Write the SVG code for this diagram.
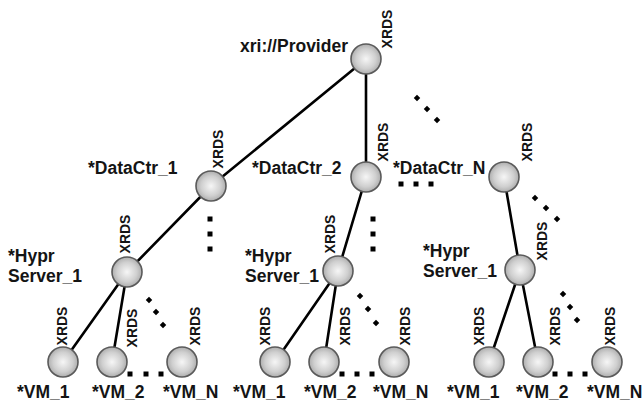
<svg xmlns="http://www.w3.org/2000/svg" width="644" height="408" viewBox="0 0 644 408">
  <style>
    .lbl { font-family: "Liberation Sans", Arial, sans-serif; font-weight: bold; font-size: 17.5px; fill: #141414; }
    .xrds { font-family: "Liberation Sans", Arial, sans-serif; font-weight: bold; font-size: 14px; fill: #141414; text-anchor: middle; }
    .edge { stroke: #000; stroke-width: 2.6; fill: none; stroke-linecap: round; }
    .node { fill: url(#ball); stroke: #5a5a5a; stroke-width: 1.6; }
    .dot { fill: #000; }
  </style>
  <defs>
    <radialGradient id="ball" cx="0.5" cy="0.5" r="0.55">
      <stop offset="0" stop-color="#f6f6f6"/>
      <stop offset="0.6" stop-color="#cfcfcf"/>
      <stop offset="1" stop-color="#a4a4a4"/>
    </radialGradient>
    <rect id="sq" x="-2.5" y="-2.5" width="5" height="5" class="dot"/>
    <rect id="dm" x="-2.3" y="-2.3" width="4.6" height="4.6" class="dot" transform="rotate(45)"/>
  </defs>
  <rect width="644" height="408" fill="#fff"/>

  <!-- connectors -->
  <g id="connectors">
    <line class="edge" x1="366" y1="59" x2="211" y2="186"/>
    <line class="edge" x1="366" y1="59" x2="366" y2="177"/>
    <line class="edge" x1="211" y1="186" x2="127" y2="272"/>
    <line class="edge" x1="366" y1="177" x2="338" y2="271"/>
    <line class="edge" x1="504" y1="177" x2="520" y2="270"/>
    <line class="edge" x1="127" y1="272" x2="63" y2="362"/>
    <line class="edge" x1="127" y1="272" x2="112" y2="362"/>
    <line class="edge" x1="338" y1="271" x2="275" y2="362"/>
    <line class="edge" x1="338" y1="271" x2="324" y2="362"/>
    <line class="edge" x1="520" y1="270" x2="489" y2="362"/>
    <line class="edge" x1="520" y1="270" x2="538" y2="362"/>
  </g>

  <!-- ellipsis dots -->
  <g id="ellipses">
    <use href="#dm" x="417" y="98"/><use href="#dm" x="427" y="109"/><use href="#dm" x="437" y="120"/>
    <use href="#sq" x="210" y="219"/><use href="#sq" x="210" y="234"/><use href="#sq" x="210" y="249"/>
    <use href="#sq" x="373" y="219"/><use href="#sq" x="373" y="234"/><use href="#sq" x="373" y="249"/>
    <use href="#sq" x="401" y="184"/><use href="#sq" x="416" y="184"/><use href="#sq" x="431" y="184"/>
    <use href="#dm" x="535" y="198"/><use href="#dm" x="546" y="208"/><use href="#dm" x="557" y="219"/>
    <use href="#dm" x="149" y="300"/><use href="#dm" x="156" y="312"/><use href="#dm" x="163" y="325"/>
    <use href="#dm" x="360" y="296"/><use href="#dm" x="368" y="309"/><use href="#dm" x="376" y="323"/>
    <use href="#dm" x="563" y="294"/><use href="#dm" x="570" y="307"/><use href="#dm" x="577" y="320"/>
    <use href="#sq" x="130" y="374"/><use href="#sq" x="146" y="374"/><use href="#sq" x="161" y="374"/>
    <use href="#sq" x="342" y="374"/><use href="#sq" x="357" y="374"/><use href="#sq" x="372" y="374"/>
    <use href="#sq" x="555" y="374"/><use href="#sq" x="570" y="374"/><use href="#sq" x="585" y="374"/>
  </g>

  <g id="provider">
    <circle class="node" cx="366" cy="59" r="15"/>
    <text class="lbl" x="240" y="52">xri://Provider</text>
    <text class="xrds" transform="translate(387,29) rotate(-90)" dy="0.35em">XRDS</text>
  </g>

  <g id="datactr-1">
    <circle class="node" cx="211" cy="186" r="15"/>
    <text class="lbl" x="88" y="174">*DataCtr_1</text>
    <text class="xrds" transform="translate(218,149) rotate(-90)" dy="0.35em">XRDS</text>
  </g>
  <g id="datactr-2">
    <circle class="node" cx="366" cy="177" r="15"/>
    <text class="lbl" x="252" y="174">*DataCtr_2</text>
    <text class="xrds" transform="translate(383,142) rotate(-90)" dy="0.35em">XRDS</text>
  </g>
  <g id="datactr-n">
    <circle class="node" cx="504" cy="177" r="15"/>
    <text class="lbl" x="393" y="174">*DataCtr_N</text>
    <text class="xrds" transform="translate(527,142) rotate(-90)" dy="0.35em">XRDS</text>
  </g>

  <g id="hypr-1">
    <circle class="node" cx="127" cy="272" r="15"/>
    <text class="lbl" x="8" y="262">*Hypr</text>
    <text class="lbl" x="8" y="282">Server_1</text>
    <text class="xrds" transform="translate(125,234) rotate(-90)" dy="0.35em">XRDS</text>
  </g>
  <g id="hypr-2">
    <circle class="node" cx="338" cy="271" r="15"/>
    <text class="lbl" x="245" y="262">*Hypr</text>
    <text class="lbl" x="245" y="282">Server_1</text>
    <text class="xrds" transform="translate(330,234) rotate(-90)" dy="0.35em">XRDS</text>
  </g>
  <g id="hypr-n">
    <circle class="node" cx="520" cy="270" r="15"/>
    <text class="lbl" x="423" y="257">*Hypr</text>
    <text class="lbl" x="423" y="277">Server_1</text>
    <text class="xrds" transform="translate(542,241) rotate(-90)" dy="0.35em">XRDS</text>
  </g>

  <g id="vm-1-1">
    <circle class="node" cx="63" cy="362" r="15"/>
    <text class="lbl" x="17" y="398">*VM_1</text>
    <text class="xrds" transform="translate(62,326) rotate(-90)" dy="0.35em">XRDS</text>
  </g>
  <g id="vm-1-2">
    <circle class="node" cx="112" cy="362" r="15"/>
    <text class="lbl" x="92" y="398">*VM_2</text>
    <text class="xrds" transform="translate(132,328) rotate(-90)" dy="0.35em">XRDS</text>
  </g>
  <g id="vm-1-n">
    <circle class="node" cx="182" cy="362" r="15"/>
    <text class="lbl" x="163" y="398">*VM_N</text>
    <text class="xrds" transform="translate(195,326) rotate(-90)" dy="0.35em">XRDS</text>
  </g>

  <g id="vm-2-1">
    <circle class="node" cx="275" cy="362" r="15"/>
    <text class="lbl" x="233" y="398">*VM_1</text>
    <text class="xrds" transform="translate(265,326) rotate(-90)" dy="0.35em">XRDS</text>
  </g>
  <g id="vm-2-2">
    <circle class="node" cx="324" cy="362" r="15"/>
    <text class="lbl" x="304" y="398">*VM_2</text>
    <text class="xrds" transform="translate(345,326) rotate(-90)" dy="0.35em">XRDS</text>
  </g>
  <g id="vm-2-n">
    <circle class="node" cx="394" cy="362" r="15"/>
    <text class="lbl" x="373" y="398">*VM_N</text>
    <text class="xrds" transform="translate(405,326) rotate(-90)" dy="0.35em">XRDS</text>
  </g>

  <g id="vm-3-1">
    <circle class="node" cx="489" cy="362" r="15"/>
    <text class="lbl" x="447" y="398">*VM_1</text>
    <text class="xrds" transform="translate(479,326) rotate(-90)" dy="0.35em">XRDS</text>
  </g>
  <g id="vm-3-2">
    <circle class="node" cx="538" cy="362" r="15"/>
    <text class="lbl" x="516" y="398">*VM_2</text>
    <text class="xrds" transform="translate(555,326) rotate(-90)" dy="0.35em">XRDS</text>
  </g>
  <g id="vm-3-n">
    <circle class="node" cx="607" cy="362" r="15"/>
    <text class="lbl" x="587" y="398">*VM_N</text>
    <text class="xrds" transform="translate(610,326) rotate(-90)" dy="0.35em">XRDS</text>
  </g>
</svg>
